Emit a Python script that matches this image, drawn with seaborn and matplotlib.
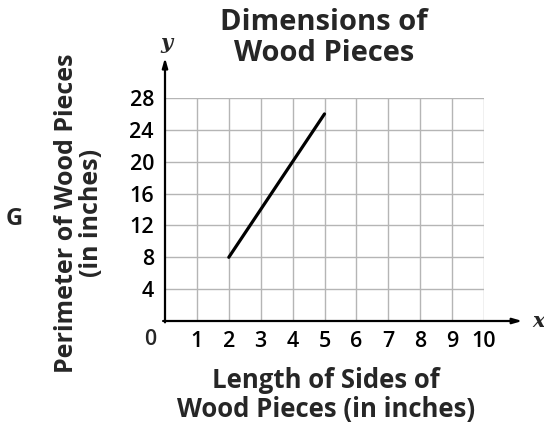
import matplotlib
matplotlib.use("Agg")
import matplotlib.pyplot as plt
import seaborn as sns
import pandas as pd

# Side length (in) vs perimeter (in) of the wood pieces
side_length = [2, 5]
perimeter = [8, 26]

x_ticks = [1, 2, 3, 4, 5, 6, 7, 8, 9, 10]
y_ticks = [4, 8, 12, 16, 20, 24, 28]

title = "Dimensions of\nWood Pieces"
x_label = "Length of Sides of\nWood Pieces (in inches)"
y_label = "Perimeter of Wood Pieces\n(in inches)"
choice_letter = "G"

sns.set_style("white")
plt.rcParams["font.family"] = ["Open Sans", "DejaVu Sans"]

fig = plt.figure(figsize=(5.44, 4.24), dpi=100)
ax = fig.add_axes([165 / 544, 1 - 321 / 424, (484 - 165) / 544, (321 - 98) / 424])

df = pd.DataFrame({"side": side_length, "perimeter": perimeter})
sns.lineplot(data=df, x="side", y="perimeter", ax=ax, color="black",
             linewidth=2.3, zorder=3)

ax.set_xlim(0, 10)
ax.set_ylim(0, 28)
ax.set_xticks(x_ticks)
ax.set_yticks(y_ticks)
ax.set_xticklabels([str(v) for v in x_ticks], fontweight="semibold")
ax.set_yticklabels([str(v) for v in y_ticks], fontweight="semibold")
ax.tick_params(axis="both", length=0, labelsize=15.5, colors="black")
ax.tick_params(axis="x", pad=7)
ax.tick_params(axis="y", pad=8)
ax.grid(True, color="#b5b5b5", linewidth=1.0)
for side in ["top", "right", "left", "bottom"]:
    ax.spines[side].set_visible(False)

# Axis arrows
arrow_kw = dict(arrowstyle="-|>,head_length=0.55,head_width=0.16", color="black",
                linewidth=1.6, shrinkA=0, shrinkB=0)
ax.annotate("", xy=(1.12, 0), xytext=(-0.006, 0), xycoords="axes fraction",
            arrowprops=arrow_kw, annotation_clip=False)
ax.annotate("", xy=(0, 1.18), xytext=(0, -0.006), xycoords="axes fraction",
            arrowprops=arrow_kw, annotation_clip=False)
ax.text(1.17, 0, "x", transform=ax.transAxes, ha="center", va="center",
        fontsize=15, fontstyle="italic", fontweight="bold",
        family=["DejaVu Serif"])
ax.text(0.005, 1.245, "y", transform=ax.transAxes, ha="center", va="center",
        fontsize=15, fontstyle="italic", fontweight="bold",
        family=["DejaVu Serif"])

# Origin label
ax.text(-0.047, -0.035, "0", transform=ax.transAxes, ha="center", va="top",
        fontsize=15.5, fontweight="semibold")

ax.set_xlabel("")
ax.set_ylabel("")
fig.text(326 / 544, 1 - 395 / 424, x_label, ha="center", va="center",
         fontsize=18.5, fontweight="bold", linespacing=1.1)
fig.text(79 / 544, 1 - 213 / 424, y_label, ha="center", va="center",
         rotation=90, fontsize=18, fontweight="bold", linespacing=1.05)
fig.text(324 / 544, 1 - 38 / 424, title, ha="center", va="center",
         fontsize=21, fontweight="bold", linespacing=1.05)
fig.text(14 / 544, 1 - 219 / 424, choice_letter, ha="center", va="center",
         fontsize=17, fontweight="bold")

fig.savefig("out.png", dpi=100)
